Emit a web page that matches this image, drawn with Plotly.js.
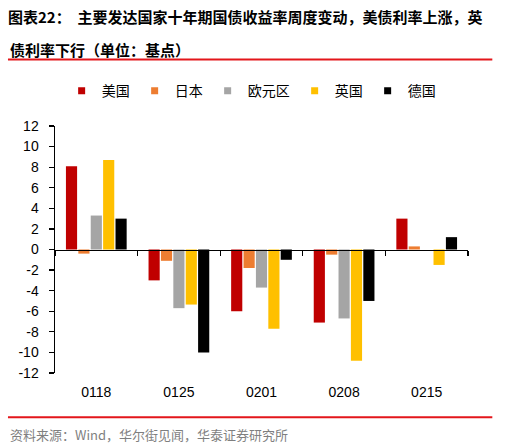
<!DOCTYPE html>
<html>
<head>
<meta charset="utf-8">
<script src="https://cdn.plot.ly/plotly-3.0.1.min.js"></script>
<style>
html,body{margin:0;padding:0;background:#fff;}
#chart{width:505px;height:448px;}
</style>
</head>
<body>
<div id="chart"></div>
<script>
// ---- data ----
const categories = ['0118', '0125', '0201', '0208', '0215'];
const seriesNames = ['美国', '日本', '欧元区', '英国', '德国'];
const usValues = [8.1, -3.0, -6.0, -7.1, 3.0];
const jpValues = [-0.4, -1.1, -1.8, -0.5, 0.3];
const euValues = [3.3, -5.7, -3.7, -6.7, 0.0];
const ukValues = [8.7, -5.35, -7.7, -10.8, -1.5];
const deValues = [3.0, -10.0, -1.0, -5.0, 1.2];
const yTickValues = [-12, -10, -8, -6, -4, -2, 0, 2, 4, 6, 8, 10, 12];

// ---- styles ----
const colors = ['#C00000', '#ED7D31', '#A5A5A5', '#FFC000', '#000000'];
const allValues = [usValues, jpValues, euValues, ukValues, deValues];

const traces = allValues.map((vals, i) => ({
  type: 'bar',
  name: seriesNames[i],
  legendgroup: seriesNames[i],
  showlegend: false,
  x: categories,
  y: vals,
  marker: {color: colors[i], line: {width: 0}},
  hoverinfo: 'x+y+name'
}));

// legend-only entries with small square symbols, as in the reference
seriesNames.forEach((name, i) => {
  traces.push({
    type: 'scatter',
    mode: 'markers',
    name: name,
    legendgroup: name,
    x: [categories[0]],
    y: [null],
    marker: {symbol: 'square', size: 7, color: colors[i], line: {width: 0}},
    showlegend: true,
    hoverinfo: 'skip'
  });
});

// helper trace on overlaying axis that draws the zero-line ticks
traces.push({
  type: 'scatter',
  mode: 'none',
  x: categories,
  y: categories.map(() => null),
  xaxis: 'x2',
  yaxis: 'y',
  showlegend: false,
  hoverinfo: 'skip'
});

const L = 55, R = 467.7, T = 126, B = 373.3;
const W = R - L, H = B - T;
const px = v => (v - L) / W;
const py = v => (B - v) / H;

const layout = {
  width: 505,
  height: 448,
  margin: {l: L, r: 505 - R, t: T, b: 448 - B, pad: 0},
  paper_bgcolor: '#ffffff',
  plot_bgcolor: '#ffffff',
  font: {family: 'Liberation Sans, Arial, sans-serif', size: 14, color: '#000000'},
  title: {
    text: '图表22：\u00a0\u00a0主要发达国家十年期国债收益率周度变动，美债利率上涨，英',
    font: {family: 'Noto Sans CJK SC, sans-serif', size: 15, color: '#000000', weight: 'bold'},
    xref: 'container', yref: 'container',
    x: 8 / 505, xanchor: 'left',
    y: 1 - 17.7 / 448, yanchor: 'middle'
  },
  barmode: 'group',
  bargap: 0.25,
  bargroupgap: 0.1,
  showlegend: true,
  legend: {
    orientation: 'h',
    x: px(251), xanchor: 'center',
    y: py(91), yanchor: 'middle',
    font: {family: 'Noto Sans CJK SC, sans-serif', size: 14, color: '#000000'},
    bgcolor: 'rgba(0,0,0,0)',
    traceorder: 'normal',
    itemwidth: 30
  },
  xaxis: {
    type: 'category',
    categoryorder: 'array',
    categoryarray: categories,
    range: [-0.5, categories.length - 0.5],
    showline: false,
    showgrid: false,
    zeroline: false,
    ticks: '',
    ticklabelstandoff: 9,
    tickfont: {family: 'Liberation Sans, Arial, sans-serif', size: 14, color: '#000000'},
    fixedrange: true
  },
  xaxis2: {
    type: 'category',
    categoryorder: 'array',
    categoryarray: categories,
    overlaying: 'x',
    anchor: 'free',
    position: 0.5,
    side: 'bottom',
    range: [-0.5, categories.length - 0.5],
    showline: true,
    linecolor: '#000000',
    linewidth: 1.5,
    ticks: 'outside',
    tickson: 'boundaries',
    ticklen: 5,
    tickwidth: 1.2,
    tickcolor: '#000000',
    showticklabels: false,
    showgrid: false,
    zeroline: false,
    fixedrange: true
  },
  yaxis: {
    range: [-12, 12],
    tickmode: 'array',
    tickvals: yTickValues,
    ticktext: yTickValues.map(String),
    showline: true,
    linecolor: '#000000',
    linewidth: 1.5,
    ticks: 'outside',
    ticklen: 5,
    tickwidth: 1.2,
    tickcolor: '#000000',
    ticklabelstandoff: 7,
    showgrid: false,
    zeroline: false,
    tickfont: {family: 'Liberation Sans, Arial, sans-serif', size: 14, color: '#000000'},
    fixedrange: true
  },
  shapes: [
    {type: 'line', xref: 'paper', yref: 'paper', x0: px(8), x1: px(492), y0: py(59.3), y1: py(59.3),
     line: {color: '#E3161B', width: 2}},
    {type: 'line', xref: 'paper', yref: 'paper', x0: px(8), x1: px(492), y0: py(417.7), y1: py(417.7),
     line: {color: '#E3161B', width: 2}}
  ],
  annotations: [
    {
      text: '债利率下行（单位：基点）',
      xref: 'paper', yref: 'paper',
      x: px(8), xanchor: 'left',
      y: py(49.5), yanchor: 'middle',
      showarrow: false,
      font: {family: 'Noto Sans CJK SC, sans-serif', size: 15, color: '#000000', weight: 'bold'}
    },
    {
      text: '资料来源：Wind，华尔街见闻，华泰证券研究所',
      xref: 'paper', yref: 'paper',
      x: px(8), xanchor: 'left',
      y: py(434.5), yanchor: 'middle',
      showarrow: false,
      font: {family: 'Noto Sans CJK SC, sans-serif', size: 13, color: '#7F7F7F'}
    }
  ]
};

Plotly.newPlot('chart', traces, layout, {displayModeBar: false, staticPlot: true});
</script>
</body>
</html>
